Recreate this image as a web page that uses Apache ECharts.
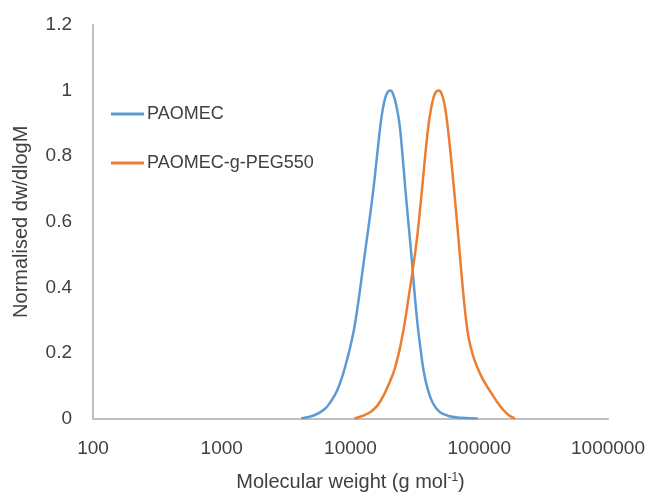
<!DOCTYPE html>
<html>
<head>
<meta charset="utf-8">
<script src="https://cdn.jsdelivr.net/npm/echarts@6/dist/echarts.min.js"></script>
<style>
html,body{margin:0;padding:0;background:#fff;}
#chart{width:650px;height:497px;}
</style>
</head>
<body>
<div id="chart"></div>
<script>
// PAOMEC: molecular weight (g/mol) and normalised dw/dlogM
const paomecM = [4133, 5246, 6278, 7115, 7922, 8820, 9478, 10180, 10743, 11542, 12400, 13321, 14310, 15376, 16368, 17424, 18395, 19408, 20479, 21609, 22803, 24060, 25390, 26792, 28274, 29833, 31484, 33218, 35050, 36990, 39736, 43460, 49270, 58940, 73070, 97340];
const paomecV = [0, 0.01, 0.028, 0.055, 0.088, 0.14, 0.185, 0.235, 0.28, 0.36, 0.45, 0.54, 0.63, 0.73, 0.83, 0.92, 0.97, 0.995, 1.0, 0.985, 0.95, 0.896, 0.80, 0.69, 0.59, 0.49, 0.38, 0.285, 0.21, 0.145, 0.09, 0.048, 0.02, 0.007, 0.002, 0];
// PAOMEC-g-PEG550
const pegM = [10743, 12850, 14570, 16222, 18066, 20114, 21999, 24060, 26316, 28274, 30373, 32627, 34434, 36660, 39028, 41185, 43853, 45866, 48396, 51075, 53887, 56861, 60536, 63318, 66806, 70500, 74386, 78480, 82820, 89000, 95610, 106460, 120700, 136850, 152390, 169690, 188920];
const pegV = [0, 0.01, 0.022, 0.04, 0.07, 0.11, 0.15, 0.21, 0.29, 0.37, 0.45, 0.54, 0.625, 0.735, 0.845, 0.92, 0.975, 0.995, 1.0, 0.99, 0.955, 0.89, 0.79, 0.71, 0.61, 0.505, 0.40, 0.31, 0.245, 0.195, 0.16, 0.12, 0.085, 0.052, 0.028, 0.01, 0];
const seriesNames = ['PAOMEC', 'PAOMEC-g-PEG550'];

const zip = (xs, ys) => xs.map((x, i) => [x, ys[i]]);
const font = 'Liberation Sans, Arial, sans-serif';
const txt = '#404040';

const chart = echarts.init(document.getElementById('chart'), null, {renderer: 'canvas'});
chart.setOption({
  animation: false,
  backgroundColor: '#fff',
  grid: {left: 93, right: 42, top: 25, bottom: 73},
  legend: {
    orient: 'vertical',
    left: 106, top: 100,
    itemGap: 31,
    itemWidth: 33, itemHeight: 3,
    icon: 'rect',
    textStyle: {fontFamily: font, fontSize: 18, color: txt, padding: [0, 0, 0, -2]},
    data: seriesNames
  },
  xAxis: {
    type: 'log', logBase: 10, min: 100, max: 1000000,
    axisLine: {show: true, lineStyle: {color: '#bfbfbf', width: 2}},
    axisTick: {show: false},
    splitLine: {show: false},
    axisLabel: {fontFamily: font, fontSize: 19, color: txt, margin: 21,
      formatter: v => String(Math.round(v))},
    name: 'Molecular weight (g mol{sup|-1})',
    nameLocation: 'middle', nameGap: 53,
    nameTextStyle: {
      fontFamily: font, fontSize: 20, color: txt,
      rich: {sup: {fontFamily: font, fontSize: 12, color: txt, verticalAlign: 'top', padding: [0, 0, 9, 0]}}
    }
  },
  yAxis: {
    type: 'value', min: 0, max: 1.2, interval: 0.2,
    axisLine: {show: true, lineStyle: {color: '#bfbfbf', width: 2}},
    axisTick: {show: false},
    splitLine: {show: false},
    axisLabel: {fontFamily: font, fontSize: 19, color: txt, margin: 21,
      formatter: v => String(parseFloat(v.toFixed(1)))},
    name: 'Normalised dw/dlogM',
    nameLocation: 'middle', nameGap: 62,
    nameTextStyle: {fontFamily: font, fontSize: 20, color: txt}
  },
  series: [
    {name: seriesNames[0], type: 'line', data: zip(paomecM, paomecV), smooth: 0.4, showSymbol: false,
     lineStyle: {color: '#5B9BD5', width: 2.5}, itemStyle: {color: '#5B9BD5'}},
    {name: seriesNames[1], type: 'line', data: zip(pegM, pegV), smooth: 0.4, showSymbol: false,
     lineStyle: {color: '#ED7D31', width: 2.5}, itemStyle: {color: '#ED7D31'}}
  ]
});
</script>
</body>
</html>
